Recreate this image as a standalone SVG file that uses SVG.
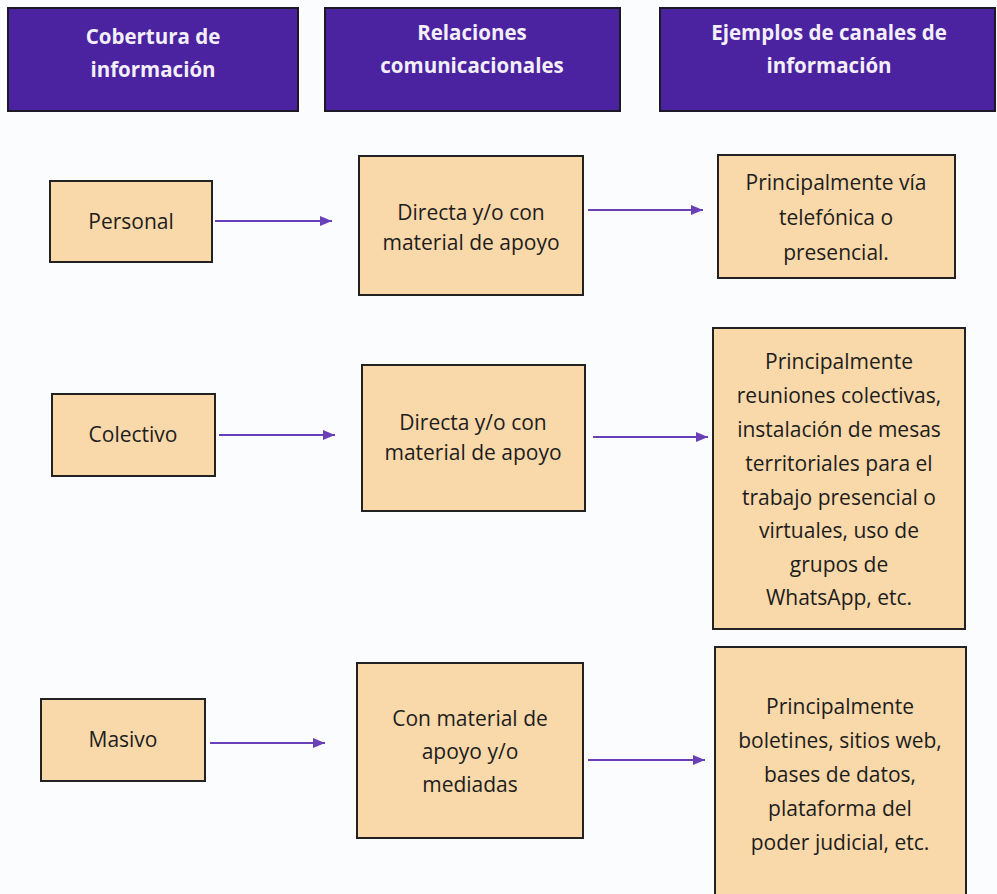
<svg xmlns="http://www.w3.org/2000/svg" width="997" height="894" viewBox="0 0 997 894">
<style>
.hdr{fill:#4b22a0;stroke:#1c1828;stroke-width:2}
.hdt{font-family:"Open Sans","Liberation Sans",sans-serif;font-weight:bold;font-size:20.5px;fill:#f3eff9;text-anchor:middle}
.box{fill:#f9d8a9;stroke:#222;stroke-width:2}
.txt{font-family:"Open Sans","Liberation Sans",sans-serif;font-size:21px;fill:#1d1d1d;text-anchor:middle}
.conn line{stroke:#6a40b8;stroke-width:2.2}
</style>
<defs>
<marker id="ah" viewBox="0 0 12 10" refX="12" refY="5" markerWidth="12" markerHeight="10" markerUnits="userSpaceOnUse" orient="auto">
<path d="M0,0 L12,5 L0,10 z" fill="#6a40b8"/>
</marker>
</defs>
<rect width="997" height="894" fill="#fbfcfd"/>

<g id="header-cobertura">
<rect class="hdr" x="8" y="8" width="290" height="103"/>
<text class="hdt" x="153" y="44">Cobertura de</text>
<text class="hdt" x="153" y="77">información</text>
</g>
<g id="header-relaciones">
<rect class="hdr" x="325" y="8" width="295" height="103"/>
<text class="hdt" x="472" y="40">Relaciones</text>
<text class="hdt" x="472" y="73">comunicacionales</text>
</g>
<g id="header-ejemplos">
<rect class="hdr" x="660" y="8" width="335" height="103"/>
<text class="hdt" x="829" y="40">Ejemplos de canales de</text>
<text class="hdt" x="829" y="73">información</text>
</g>

<g id="personal">
<rect class="box" x="50" y="181" width="162" height="81"/>
<text class="txt" x="131" y="229">Personal</text>
</g>
<g id="directa1">
<rect class="box" x="359" y="156" width="224" height="139"/>
<text class="txt" x="471" y="220">Directa y/o con</text>
<text class="txt" x="471" y="250">material de apoyo</text>
</g>
<g id="telefonica">
<rect class="box" x="718" y="155" width="237" height="123"/>
<text class="txt" x="836" y="190">Principalmente vía</text>
<text class="txt" x="836" y="225">telefónica o</text>
<text class="txt" x="836" y="260">presencial.</text>
</g>

<g id="colectivo">
<rect class="box" x="52" y="394" width="163" height="82"/>
<text class="txt" x="133" y="442">Colectivo</text>
</g>
<g id="directa2">
<rect class="box" x="362" y="365" width="223" height="146"/>
<text class="txt" x="473" y="430">Directa y/o con</text>
<text class="txt" x="473" y="460">material de apoyo</text>
</g>
<g id="reuniones">
<rect class="box" x="713" y="328" width="252" height="301"/>
<text class="txt" x="839" y="369">Principalmente</text>
<text class="txt" x="839" y="403">reuniones colectivas,</text>
<text class="txt" x="839" y="437">instalación de mesas</text>
<text class="txt" x="839" y="471">territoriales para el</text>
<text class="txt" x="839" y="505">trabajo presencial o</text>
<text class="txt" x="839" y="538">virtuales, uso de</text>
<text class="txt" x="839" y="572">grupos de</text>
<text class="txt" x="839" y="605">WhatsApp, etc.</text>
</g>

<g id="masivo">
<rect class="box" x="41" y="699" width="164" height="82"/>
<text class="txt" x="123" y="747">Masivo</text>
</g>
<g id="con-material">
<rect class="box" x="357" y="663" width="226" height="175"/>
<text class="txt" x="470" y="726">Con material de</text>
<text class="txt" x="470" y="759">apoyo y/o</text>
<text class="txt" x="470" y="792">mediadas</text>
</g>
<g id="boletines">
<rect class="box" x="715" y="647" width="251" height="260"/>
<text class="txt" x="840" y="714">Principalmente</text>
<text class="txt" x="840" y="748">boletines, sitios web,</text>
<text class="txt" x="840" y="782">bases de datos,</text>
<text class="txt" x="840" y="816">plataforma del</text>
<text class="txt" x="840" y="850">poder judicial, etc.</text>
</g>

<g id="connectors" class="conn">
<line x1="215" y1="221" x2="332" y2="221" marker-end="url(#ah)"/>
<line x1="588" y1="210" x2="703" y2="210" marker-end="url(#ah)"/>
<line x1="219" y1="435" x2="335" y2="435" marker-end="url(#ah)"/>
<line x1="593" y1="437" x2="708" y2="437" marker-end="url(#ah)"/>
<line x1="210" y1="743" x2="325" y2="743" marker-end="url(#ah)"/>
<line x1="588" y1="760" x2="705" y2="760" marker-end="url(#ah)"/>
</g>
</svg>
